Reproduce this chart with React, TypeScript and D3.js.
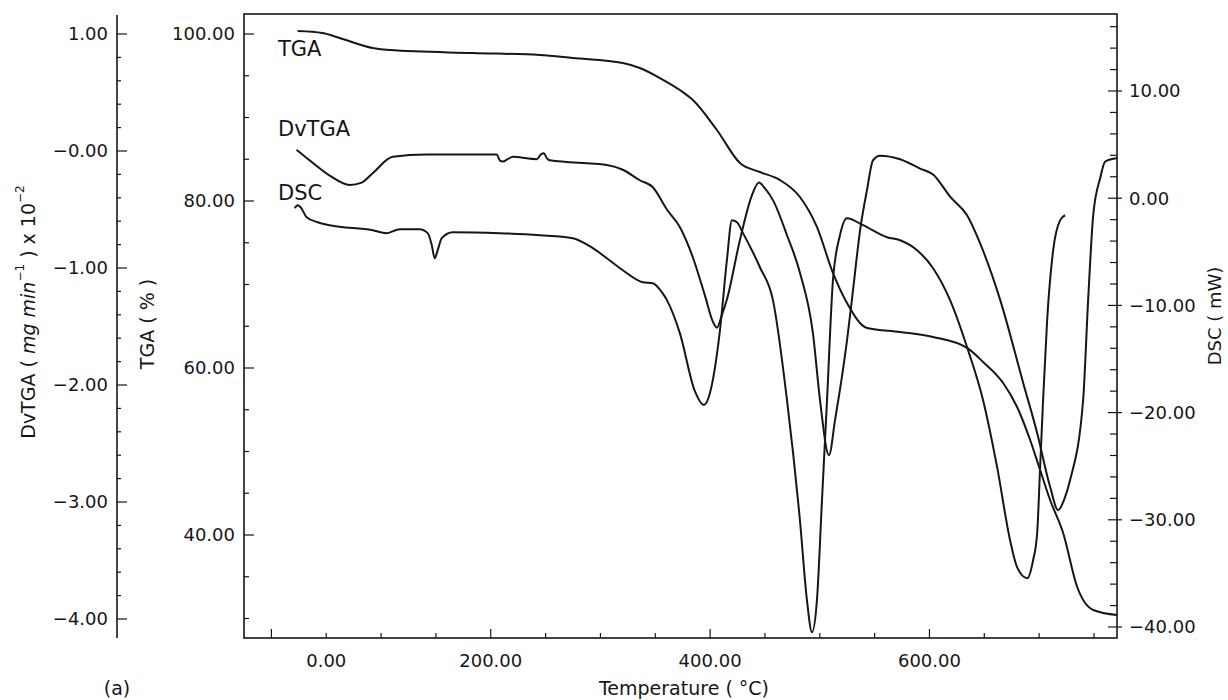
import React from "react";
import * as d3 from "d3";

const W = 1228;
const H = 700;

// TGA (%) against temperature (°C)
const tgaTemp = [23.9, 46.7, 62.2, 92.3, 107.8, 183.6, 244.7, 274.8, 320.4, 335.9, 354.2, 372.4, 384.3, 406.2, 427.2, 445.4, 463.7, 481.9, 497.4, 512.0, 524.8, 543.1, 573.2, 603.3, 634.3, 648.9, 667.2, 679.9, 691.8, 700.9, 710.0, 721.9, 734.7, 749.3, 771.2];
const tgaValue = [100.36, 100.12, 99.52, 98.32, 98.08, 97.72, 97.49, 97.13, 96.53, 95.93, 94.73, 93.29, 92.1, 88.5, 84.55, 83.47, 82.51, 80.48, 76.89, 71.38, 67.78, 64.79, 64.31, 63.71, 62.4, 60.72, 58.2, 55.33, 51.38, 47.78, 44.19, 40.24, 33.77, 31.02, 30.42];

// DvTGA (mg/min x 10^-2)
const dvtgaTemp = [23.0, 37.6, 53.1, 71.4, 82.3, 92.3, 110.6, 141.6, 205.5, 208.2, 211.0, 215.5, 220.1, 242.0, 245.6, 248.4, 251.1, 253.8, 305.8, 320.4, 335.9, 347.8, 360.6, 372.4, 384.3, 395.1, 402.6, 406.2, 410.8, 415.3, 427.2, 438.1, 444.5, 450.0, 457.3, 470.1, 481.9, 493.8, 500.2, 508.4, 513.9, 518.4, 524.8, 530.3, 536.7, 543.1, 548.5, 554.9, 573.2, 591.4, 603.3, 618.8, 634.3, 646.2, 664.4, 685.4, 698.2, 710.0, 717.3, 722.8, 728.3, 740.1, 744.7, 749.3, 755.7, 760.2, 771.2];
const dvtgaValue = [0.01, -0.1, -0.21, -0.29, -0.27, -0.19, -0.05, -0.03, -0.03, -0.08, -0.09, -0.07, -0.05, -0.07, -0.03, -0.02, -0.06, -0.08, -0.12, -0.16, -0.25, -0.31, -0.5, -0.65, -0.91, -1.23, -1.46, -1.51, -1.4, -1.27, -0.76, -0.38, -0.27, -0.32, -0.42, -0.72, -1.04, -1.56, -2.13, -2.6, -2.3, -2.04, -1.62, -1.19, -0.68, -0.33, -0.08, -0.04, -0.07, -0.15, -0.2, -0.39, -0.55, -0.79, -1.27, -1.98, -2.41, -2.87, -3.07, -2.98, -2.81, -2.13, -1.27, -0.55, -0.23, -0.09, -0.06];

// DSC (mW)
const dscTemp = [21.2, 23.9, 26.6, 32.1, 42.2, 53.1, 92.3, 105.1, 117.0, 135.2, 142.5, 146.2, 148.9, 151.6, 155.3, 165.3, 208.2, 244.7, 274.8, 290.3, 305.8, 320.4, 338.7, 347.8, 356.0, 360.6, 372.4, 386.1, 394.3, 399.8, 402.6, 409.0, 415.3, 419.9, 424.5, 430.0, 445.4, 457.3, 470.1, 481.9, 488.3, 492.9, 497.4, 502.0, 506.6, 512.0, 518.4, 524.8, 539.4, 561.3, 573.2, 588.7, 603.3, 618.8, 634.3, 648.9, 661.7, 673.5, 679.9, 689.1, 694.5, 698.2, 700.9, 703.6, 707.3, 712.8, 719.2, 723.7];
const dscValue = [-0.93, -0.65, -0.84, -1.77, -2.24, -2.52, -2.99, -3.26, -2.89, -2.89, -3.26, -4.38, -5.6, -4.85, -3.73, -3.17, -3.26, -3.45, -3.73, -4.48, -5.6, -6.72, -7.84, -7.93, -8.77, -9.51, -12.59, -18.0, -19.3, -18.2, -16.9, -12.31, -5.78, -2.05, -2.24, -3.26, -6.44, -9.51, -18.84, -30.04, -37.5, -40.49, -37.5, -28.17, -18.84, -7.65, -3.45, -1.87, -2.52, -3.64, -3.92, -4.85, -6.53, -9.51, -13.9, -18.84, -25.09, -31.9, -34.42, -35.45, -33.77, -31.25, -25.09, -18.84, -11.38, -4.85, -2.05, -1.59];

const xMajor = [0, 200, 400, 600];
const xLabels = ["0.00", "200.00", "400.00", "600.00"];
// in the printed figure the "0.00" label sits over the 50° tick
const xLabelAt = [50, 200, 400, 600];
const tgaMajor = [40, 60, 80, 100];
const tgaLabels = ["40.00", "60.00", "80.00", "100.00"];
const dvMajor = [-4, -3, -2, -1, 0, 1];
const dvLabels = ["\u22124.00", "\u22123.00", "\u22122.00", "\u22121.00", "\u22120.00", "1.00"];
const dscMajor = [-40, -30, -20, -10, 0, 10];
const dscLabels = ["\u221240.00", "\u221230.00", "\u221220.00", "\u221210.00", "0.00", "10.00"];

const left = 244, right = 1117, top = 14, bottom = 638;
const dvAxisX = 117;

const font = "'DejaVu Sans', sans-serif";
const ink = "#161616";

export default function App() {
  const x = d3.scaleLinear().domain([-25, 771]).range([left, right]);
  const yTga = d3.scaleLinear().domain([40, 100]).range([535, 34]);
  const yDv = d3.scaleLinear().domain([-4, 1]).range([619, 34]);
  const yDsc = d3.scaleLinear().domain([-40, 10]).range([627, 91]);

  const makeLine = (temps: number[], y: d3.ScaleLinear<number, number>) =>
    d3.line<number>()
      .x((_, i) => x(temps[i]))
      .y((v) => y(v))
      .curve(d3.curveMonotoneX);

  const xMinor = d3.range(0, 751, 50);
  const tgaMinor = d3.range(30, 101, 5);
  const dvMinor = d3.range(-20, 6, 1).map((d) => d / 5);
  const dscMinor = d3.range(-40, 17, 2);

  return (
    <svg width={W} height={H} style={{ position: "absolute", left: 0, top: 0, background: "#fff" }}
      fontFamily={font} fill={ink}>
      {/* frame */}
      <rect x={left} y={top} width={right - left} height={bottom - top} fill="none" stroke={ink} strokeWidth={1.6} />

      {/* x axis ticks */}
      {xMinor.map((t) => (
        <line key={"xm" + t} x1={x(t)} x2={x(t)} y1={bottom} y2={bottom - (xMajor.includes(t) ? 9 : 5)} stroke={ink} strokeWidth={1.2} />
      ))}
      {xLabels.map((s, i) => (
        <text key={"xl" + s} x={x(xLabelAt[i])} y={667} fontSize={18} textAnchor="middle">{s}</text>
      ))}
      <text x={684} y={695} fontSize={19} textAnchor="middle">Temperature ( °C)</text>

      {/* TGA axis (left frame edge) */}
      {tgaMinor.map((v) => (
        <line key={"tm" + v} x1={left} x2={left + (tgaMajor.includes(v) ? 10 : 5)} y1={yTga(v)} y2={yTga(v)} stroke={ink} strokeWidth={1.2} />
      ))}
      {tgaLabels.map((s, i) => (
        <text key={"tl" + s} x={235} y={yTga(tgaMajor[i])} dy="0.36em" fontSize={18} textAnchor="end">{s}</text>
      ))}
      <text transform={`translate(147,324) rotate(-90)`} fontSize={19} textAnchor="middle" dominantBaseline="central">TGA ( % )</text>

      {/* DvTGA axis */}
      <line x1={dvAxisX} x2={dvAxisX} y1={15} y2={bottom} stroke={ink} strokeWidth={1.6} />
      {dvMinor.map((v) => (
        <line key={"dm" + v} x1={dvAxisX} x2={dvAxisX + (dvMajor.includes(v) ? 10 : 4)} y1={yDv(v)} y2={yDv(v)} stroke={ink} strokeWidth={1.2} />
      ))}
      {dvLabels.map((s, i) => (
        <text key={"dl" + s} x={108} y={yDv(dvMajor[i])} dy="0.36em" fontSize={18} textAnchor="end">{s}</text>
      ))}
      <text transform={`translate(28,312) rotate(-90)`} fontSize={19} textAnchor="middle" dominantBaseline="central">
        DvTGA ( <tspan fontStyle="italic">mg min</tspan><tspan fontSize={12} dy={-8}>−1</tspan><tspan dy={8}> ) x 10</tspan><tspan fontSize={12} dy={-8}>−2</tspan>
      </text>

      {/* DSC axis (right frame edge) */}
      {dscMinor.map((v) => (
        <line key={"sm" + v} x1={dscMajor.includes(v) ? right - 9 : right - 7} x2={dscMajor.includes(v) ? right + 5 : right} y1={yDsc(v)} y2={yDsc(v)} stroke={ink} strokeWidth={1.2} />
      ))}
      {dscLabels.map((s, i) => (
        <text key={"sl" + s} x={1129} y={yDsc(dscMajor[i])} dy="0.36em" fontSize={18} textAnchor="start">{s}</text>
      ))}
      <text transform={`translate(1214,316) rotate(-90)`} fontSize={18} textAnchor="middle" dominantBaseline="central">DSC ( mW)</text>

      {/* curves */}
      <path d={makeLine(tgaTemp, yTga)(tgaValue) ?? ""} fill="none" stroke={ink} strokeWidth={2} />
      <path d={makeLine(dvtgaTemp, yDv)(dvtgaValue) ?? ""} fill="none" stroke={ink} strokeWidth={2} />
      <path d={makeLine(dscTemp, yDsc)(dscValue) ?? ""} fill="none" stroke={ink} strokeWidth={2} />

      {/* curve names */}
      <text x={278} y={56} fontSize={21}>TGA</text>
      <text x={278} y={136} fontSize={21}>DvTGA</text>
      <text x={278} y={200} fontSize={21}>DSC</text>

      <text x={117} y={695} fontSize={19} textAnchor="middle">(a)</text>
    </svg>
  );
}
